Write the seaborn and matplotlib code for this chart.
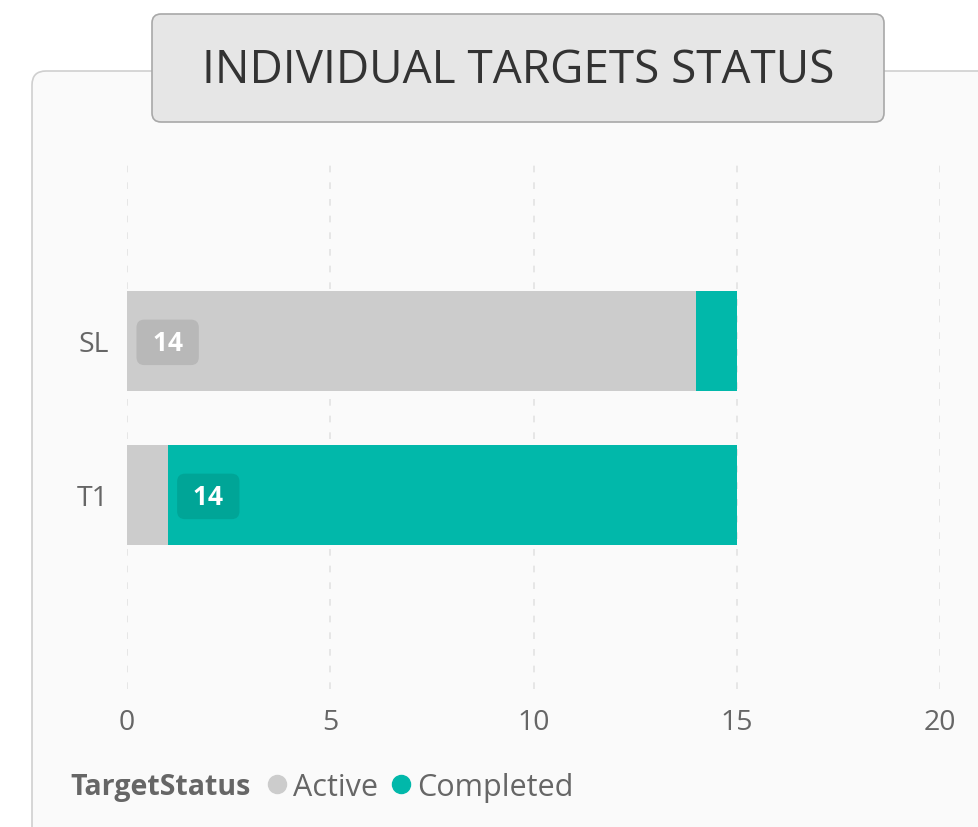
import pandas as pd
import matplotlib.pyplot as plt
import seaborn as sns
from matplotlib.patches import FancyBboxPatch
from matplotlib.lines import Line2D
from matplotlib.transforms import IdentityTransform

# Data
targets = ['SL', 'T1']
active = [14, 1]
completed = [1, 14]
x_ticks = [0, 5, 10, 15, 20]

GRAY = '#cccccc'
TEAL = '#01b8aa'
TXT = '#666666'

df = pd.DataFrame({'Target': targets, 'Active': active, 'Completed': completed})
df['Total'] = df['Active'] + df['Completed']

W, H = 979, 828
fig = plt.figure(figsize=(W / 100, H / 100), dpi=100)
fig.patch.set_facecolor('white')
plt.rcParams['font.family'] = ['Open Sans', 'DejaVu Sans']


def px_box(x0, y0, x1, y1, **kw):
    # rectangle in image pixel coords (origin top-left)
    return FancyBboxPatch((x0, H - y1), x1 - x0, y1 - y0,
                          transform=IdentityTransform(), **kw)


# card background
fig.patches.append(px_box(32, 72, 1010, 850, boxstyle='round,pad=0,rounding_size=14',
                          facecolor='#fafafa', edgecolor='#cfcfcf', linewidth=1.2, zorder=-2))
# title box
fig.patches.append(px_box(152, 15, 884, 123, boxstyle='round,pad=0,rounding_size=9',
                          facecolor='#e6e6e6', edgecolor='#a8a8a8', linewidth=1.2, zorder=-1))
fig.text((152 + 884) / 2 / W, 1 - 71 / H, 'INDIVIDUAL TARGETS STATUS',
         ha='center', va='center', fontsize=33, color='#333333')

ax = fig.add_axes([127 / W, 1 - 690 / H, (940 - 127) / W, 530 / H])
ax.set_facecolor('none')

# stacked bars: total in teal, active over it in gray
sns.barplot(data=df, y='Target', x='Total', color=TEAL, orient='h',
            width=0.65, saturation=1, ax=ax)
sns.barplot(data=df, y='Target', x='Active', color=GRAY, orient='h',
            width=0.65, saturation=1, ax=ax)

ax.set_xlim(0, 20)
ax.set_ylim(2.26, -1.18)
ax.set_xticks(x_ticks)
ax.set_xticklabels([str(t) for t in x_ticks])
ax.set_xlabel('')
ax.set_ylabel('')
for s in ax.spines.values():
    s.set_visible(False)
ax.tick_params(axis='both', length=0, labelsize=20.5, labelcolor=TXT)
ax.tick_params(axis='x', pad=14)
ax.tick_params(axis='y', pad=13)
for lbl in ax.get_yticklabels():
    lbl.set_verticalalignment('center_baseline')
ax.grid(axis='x', color='#e2e2e2', linestyle=(0, (4, 6)), linewidth=1.2)
ax.set_axisbelow(True)

# value badges on the larger segment of each bar
for i, row in df.iterrows():
    if row['Active'] >= row['Completed']:
        x0, val, bg = 0, row['Active'], '#b8b8b8'
    else:
        x0, val, bg = row['Active'], row['Completed'], '#00a597'
    ax.text(x0 + 1.0, i + 0.01, f' {val} ', ha='center', va='center', fontsize=19,
            fontweight='bold', color='white',
            bbox=dict(boxstyle='round,pad=0.35,rounding_size=0.3', facecolor=bg,
                      edgecolor='none'))

# legend
fig.text(70 / W, 1 - 788 / H, 'TargetStatus', ha='left', va='center',
         fontsize=20.5, fontweight='bold', color=TXT)
handles = [Line2D([], [], marker='o', linestyle='', markersize=13, color=GRAY),
           Line2D([], [], marker='o', linestyle='', markersize=13, color=TEAL)]
leg = fig.legend(handles, ['Active', 'Completed'], loc='center left',
                 bbox_to_anchor=(262 / W, 1 - 788 / H), ncol=2, frameon=False,
                 fontsize=22, handletextpad=0.0, columnspacing=0.28, handlelength=1.0,
                 borderpad=0, borderaxespad=0)
for t in leg.get_texts():
    t.set_color(TXT)

fig.savefig('out.png', dpi=100)
